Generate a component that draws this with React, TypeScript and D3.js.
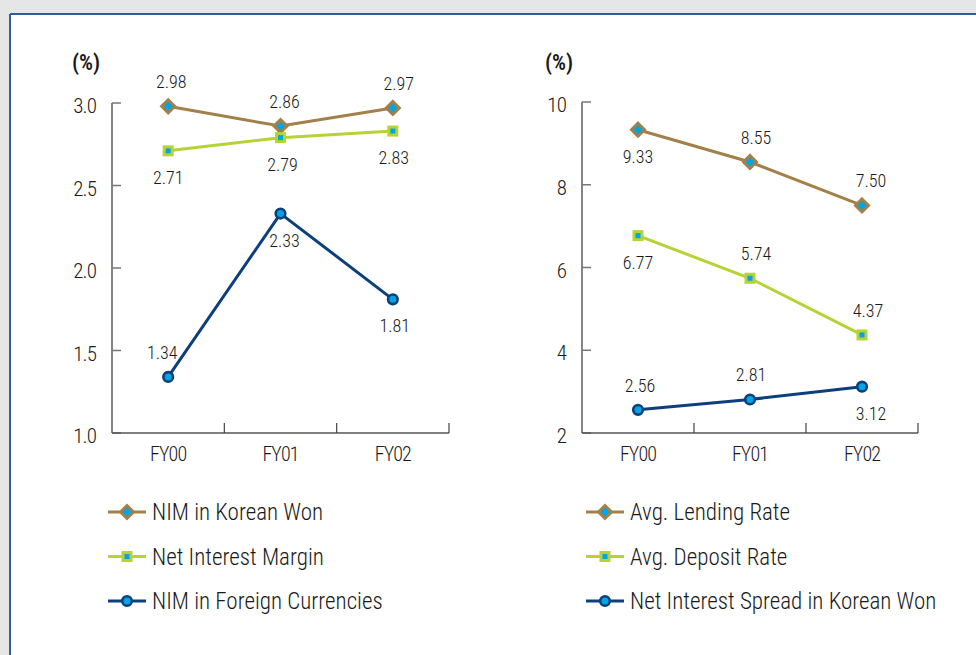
import React from "react";
import * as d3 from "d3";

// Fiscal years shared by both panels
const years = ["FY00", "FY01", "FY02"];

// Left panel: net interest margins (%)
const nimKrw = [2.98, 2.86, 2.97];
const nim = [2.71, 2.79, 2.83];
const nimForeign = [1.34, 2.33, 1.81];
const leftTicks = [1.0, 1.5, 2.0, 2.5, 3.0];

// Right panel: lending / deposit rates and spread (%)
const lendingRate = [9.33, 8.55, 7.5];
const depositRate = [6.77, 5.74, 4.37];
const spreadKrw = [2.56, 2.81, 3.12];
const rightTicks = [2, 4, 6, 8, 10];

const FONT = "'Roboto Condensed', 'Liberation Sans Narrow', Roboto, 'Liberation Sans', sans-serif";
const WEIGHT = 300;
const BROWN = "#a3804a";
const GREEN = "#b5d334";
const NAVY = "#0d3f7c";
const CYAN = "#00a6e4";

type Kind = "diamond" | "square" | "circle";

interface Series {
  name: string;
  values: number[];
  color: string;
  kind: Kind;
  place: ("a" | "b")[];
  dx: number[];
  fmt: (v: number) => string;
}

function Marker({ kind, x, y, color }: { kind: Kind; x: number; y: number; color: string }) {
  if (kind === "diamond") {
    const r = 6.5;
    return (
      <path d={`M${x},${y - r}L${x + r},${y}L${x},${y + r}L${x - r},${y}Z`} fill={CYAN} stroke={color} strokeWidth={3} />
    );
  }
  if (kind === "square") {
    return (
      <g>
        <rect x={x - 5.5} y={y - 5.5} width={11} height={11} fill={color} />
        <rect x={x - 2.5} y={y - 2.5} width={5} height={5} fill={CYAN} />
      </g>
    );
  }
  return <circle cx={x} cy={y} r={4.8} fill={CYAN} stroke={color} strokeWidth={2.6} />;
}

function Panel({
  x0,
  x1,
  yTop,
  yBottom,
  domain,
  ticks,
  tickFmt,
  series,
  legendX,
  unitX,
}: {
  x0: number;
  x1: number;
  yTop: number;
  yBottom: number;
  domain: [number, number];
  ticks: number[];
  tickFmt: (v: number) => string;
  series: Series[];
  legendX: number;
  unitX: number;
}) {
  const x = d3.scaleBand<string>().domain(years).range([x0, x1]);
  const y = d3.scaleLinear().domain(domain).range([yBottom, yTop]);
  const line = d3
    .line<number>()
    .x((_, i) => (x(years[i]) as number) + x.bandwidth() / 2)
    .y((d) => y(d));
  const bounds = [x0, ...years.map((c) => (x(c) as number) + x.bandwidth())];

  return (
    <g fontFamily={FONT} fontWeight={WEIGHT}>
      <text x={unitX} y={70} fontSize={22} fontWeight={600} fill="#1a1a1a">
        (%)
      </text>
      {/* y axis */}
      <line x1={x0} x2={x0} y1={yTop} y2={yBottom} stroke="#333" strokeWidth={1.2} />
      {ticks.map((t) => (
        <g key={t}>
          <line x1={x0} x2={x0 + 9} y1={y(t)} y2={y(t)} stroke="#777" strokeWidth={1.5} />
          <text x={x0 - 16} y={y(t) + 10} textAnchor="end" fontSize={21} letterSpacing={-0.9} fill="#1a1a1a">
            {tickFmt(t)}
          </text>
        </g>
      ))}
      {/* x axis */}
      <line x1={x0} x2={x1} y1={yBottom} y2={yBottom} stroke="#555" strokeWidth={1.4} />
      {bounds.slice(1).map((b, i) => (
        <line key={i} x1={b} x2={b} y1={yBottom - 10} y2={yBottom} stroke="#444" strokeWidth={1.2} />
      ))}
      {years.map((c) => (
        <text
          key={c}
          x={(x(c) as number) + x.bandwidth() / 2}
          y={yBottom + 28}
          textAnchor="middle"
          fontSize={20}
          letterSpacing={-0.9}
          fill="#1a1a1a"
        >
          {c}
        </text>
      ))}
      {/* series */}
      {series.map((s) => (
        <g key={s.name}>
          <path d={line(s.values) || ""} fill="none" stroke={s.color} strokeWidth={3} />
          {s.values.map((v, i) => {
            const cx = (x(years[i]) as number) + x.bandwidth() / 2;
            const cy = y(v);
            return (
              <g key={i}>
                <Marker kind={s.kind} x={cx} y={cy} color={s.color} />
                <text
                  x={cx + s.dx[i]}
                  y={s.place[i] === "a" ? cy - 18 : cy + 33}
                  textAnchor="middle"
                  fontSize={18}
                  fill="#1a1a1a"
                >
                  {s.fmt(v)}
                </text>
              </g>
            );
          })}
        </g>
      ))}
      {/* legend */}
      {series.map((s, i) => {
        const ly = 512 + i * 44.5;
        return (
          <g key={s.name}>
            <line x1={legendX} x2={legendX + 38} y1={ly} y2={ly} stroke={s.color} strokeWidth={3} />
            <Marker kind={s.kind} x={legendX + 19} y={ly} color={s.color} />
            <text x={legendX + 44} y={ly + 8} fontSize={23} fill="#1a1a1a">
              {s.name}
            </text>
          </g>
        );
      })}
    </g>
  );
}

export default function App() {
  const f2 = (v: number) => v.toFixed(2);
  const leftSeries: Series[] = [
    { name: "NIM in Korean Won", values: nimKrw, color: BROWN, kind: "diamond", place: ["a", "a", "a"], dx: [3, 4, 6], fmt: f2 },
    { name: "Net Interest Margin", values: nim, color: GREEN, kind: "square", place: ["b", "b", "b"], dx: [0, 2, 1], fmt: f2 },
    { name: "NIM in Foreign Currencies", values: nimForeign, color: NAVY, kind: "circle", place: ["a", "b", "b"], dx: [-6, 4, 2], fmt: f2 },
  ];
  const rightSeries: Series[] = [
    { name: "Avg. Lending Rate", values: lendingRate, color: BROWN, kind: "diamond", place: ["b", "a", "a"], dx: [0, 6, 9], fmt: f2 },
    { name: "Avg. Deposit Rate", values: depositRate, color: GREEN, kind: "square", place: ["b", "a", "a"], dx: [0, 6, 6], fmt: f2 },
    { name: "Net Interest Spread in Korean Won", values: spreadKrw, color: NAVY, kind: "circle", place: ["a", "a", "b"], dx: [2, 1, 9], fmt: f2 },
  ];

  return (
    <svg
      width={976}
      height={655}
      style={{ position: "absolute", left: 0, top: 0, display: "block" }}
    >
      <rect width={976} height={655} fill="#e6e6e6" />
      <rect x={10} y={14} width={970} height={650} fill="#ffffff" />
      <line x1={10} x2={976} y1={14} y2={14} stroke="#2f5f99" strokeWidth={2} />
      <line x1={10} x2={10} y1={14} y2={655} stroke="#2f5f99" strokeWidth={2} />
      <Panel
        x0={112}
        x1={449}
        yTop={103}
        yBottom={433}
        domain={[1, 3]}
        ticks={leftTicks}
        tickFmt={(v) => v.toFixed(1)}
        series={leftSeries}
        legendX={108}
        unitX={72}
      />
      <Panel
        x0={582}
        x1={918}
        yTop={102}
        yBottom={433}
        domain={[2, 10]}
        ticks={rightTicks}
        tickFmt={(v) => String(v)}
        series={rightSeries}
        legendX={586}
        unitX={545}
      />
    </svg>
  );
}
